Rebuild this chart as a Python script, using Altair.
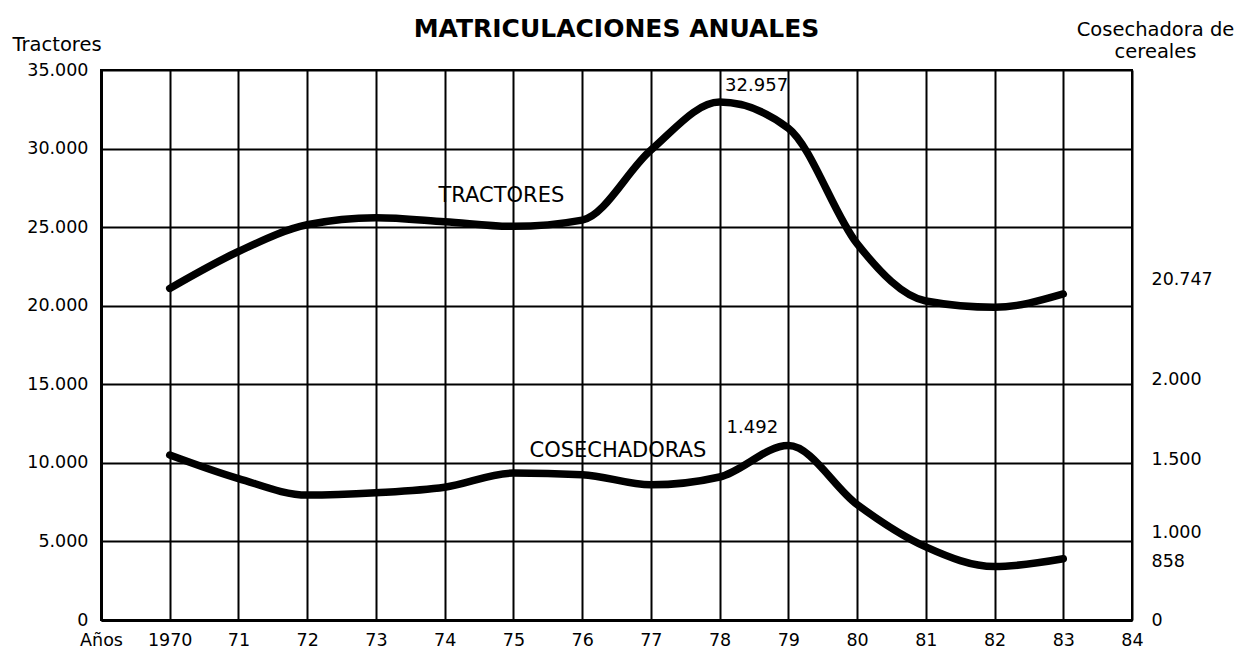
import altair as alt
import pandas as pd

# ---------------- data ----------------
years = list(range(1970, 1984))
tractores = [21100, 23450, 25150, 25600, 25350, 25050, 25450,
             29900, 32957, 31300, 23950, 20300, 19900, 20747]
# Cosechadoras drawn on the left (tractor) scale, as placed in the original
cosechadoras = [10500, 9000, 7950, 8100, 8450, 9350, 9250,
                8600, 9100, 11100, 7350, 4650, 3400, 3900]

left_ticks = [0, 5000, 10000, 15000, 20000, 25000, 30000, 35000]
x_ticks = list(range(1969, 1985))
x_tick_labels = ["Años", "1970", "71", "72", "73", "74", "75", "76", "77",
                 "78", "79", "80", "81", "82", "83", "84"]
right_tick_pos = [0, 3700, 5600, 10200, 15300, 21700]
right_tick_labels = ["0", "858", "1.000", "1.500", "2.000", "20.747"]

peak_tractores_year, peak_tractores_label = 1978, "32.957"
peak_cosech_year, peak_cosech_label = 1979, "1.492"
name_tractores_year, name_tractores = 1975, "TRACTORES"
name_cosech_year, name_cosech = 1977, "COSECHADORAS"

FONT = "DejaVu Sans"

df = pd.DataFrame({"year": years, "tractores": tractores, "cosechadoras": cosechadoras})


def lookup_expr(vals, labels):
    expr = "''"
    for v, l in reversed(list(zip(vals, labels))):
        expr = f"datum.value == {v} ? '{l}' : {expr}"
    return expr


x_enc = alt.X(
    "year:Q",
    scale=alt.Scale(domain=[1969, 1984], nice=False, zero=False),
    axis=alt.Axis(
        values=x_ticks, labelExpr=lookup_expr(x_ticks, x_tick_labels), title=None,
        grid=True, gridColor="black", gridWidth=2, gridOpacity=1,
        domainColor="black", domainWidth=3, ticks=False,
        labelFont=FONT, labelFontSize=17.5, labelColor="black", labelPadding=11,
        labelFlush=False, labelOverlap=False,
    ),
)

y_left = alt.Y(
    "tractores:Q",
    scale=alt.Scale(domain=[0, 35000], nice=False),
    axis=alt.Axis(
        values=left_ticks, labelExpr="replace(format(datum.value, ','), ',', '.')",
        title="Tractores", titleAngle=0, titleX=-89, titleY=-26, titleAlign="left",
        titleBaseline="middle", titleFont=FONT, titleFontSize=19.5, titleFontWeight="normal",
        titleColor="black",
        grid=True, gridColor="black", gridWidth=2, gridOpacity=1,
        domainColor="black", domainWidth=3, ticks=False,
        labelFont=FONT, labelFontSize=17.5, labelColor="black", labelPadding=13,
        labelOverlap=False, labelFlush=False,
    ),
)

y_right = alt.Y(
    "cosechadoras:Q",
    scale=alt.Scale(domain=[0, 35000], nice=False),
    axis=alt.Axis(
        orient="right", values=right_tick_pos,
        labelExpr=lookup_expr(right_tick_pos, right_tick_labels),
        title=["Cosechadora de", "cereales"], titleAngle=0, titleX=23, titleY=-50,
        titleAlign="center", titleBaseline="top", titleLineHeight=22,
        titleFont=FONT, titleFontSize=19.5, titleFontWeight="normal", titleColor="black",
        grid=False, domain=False, ticks=False,
        labelFont=FONT, labelFontSize=17.5, labelColor="black", labelPadding=19,
        labelOverlap=False, labelFlush=False,
    ),
)

base = alt.Chart(df)

line_style = dict(interpolate="monotone", color="black", strokeWidth=7.5,
                  strokeCap="round", strokeJoin="round")

tr_line = base.mark_line(**line_style).encode(x=x_enc, y=y_left)
tr_peak = base.transform_filter(alt.datum.year == peak_tractores_year).mark_text(
    font=FONT, fontSize=18, color="black", align="center", baseline="middle", dx=37, dy=-16
).encode(x=x_enc, y=y_left, text=alt.value(peak_tractores_label))
tr_name = base.transform_filter(alt.datum.year == name_tractores_year).mark_text(
    font=FONT, fontSize=21, color="black", align="center", baseline="middle", dx=-12, dy=-30
).encode(x=x_enc, y=y_left, text=alt.value(name_tractores))

co_line = base.mark_line(**line_style).encode(x=x_enc, y=y_right)
co_peak = base.transform_filter(alt.datum.year == peak_cosech_year).mark_text(
    font=FONT, fontSize=18, color="black", align="center", baseline="middle", dx=-36, dy=-18
).encode(x=x_enc, y=y_right, text=alt.value(peak_cosech_label))
co_name = base.transform_filter(alt.datum.year == name_cosech_year).mark_text(
    font=FONT, fontSize=21, color="black", align="center", baseline="middle", dx=-33, dy=-34
).encode(x=x_enc, y=y_right, text=alt.value(name_cosech))

left = alt.layer(tr_line, tr_peak, tr_name)
right = alt.layer(co_line, co_peak, co_name)

chart = (
    alt.layer(left, right)
    .resolve_scale(y="independent")
    .properties(
        width=1031, height=550,
        title=alt.TitleParams(
            "MATRICULACIONES ANUALES", font=FONT, fontSize=25, fontWeight="bold",
            color="black", anchor="middle", frame="group", offset=0, dy=23,
        ),
        autosize=alt.AutoSizeParams(type="none"),
        padding={"left": 93, "top": 62, "right": 105, "bottom": 30},
        background="white",
    )
    .configure_view(stroke="black", strokeWidth=2)
)

chart.save("out.html", embed_options={"renderer": "svg", "actions": False})
